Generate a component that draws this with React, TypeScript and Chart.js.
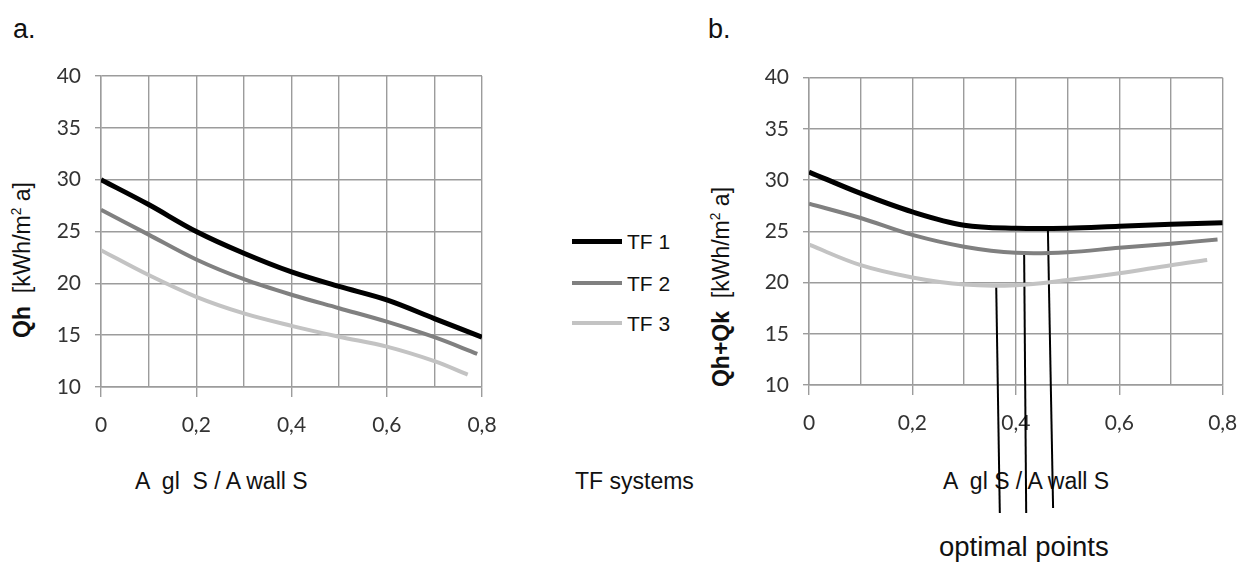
import React, { useEffect, useRef } from 'react';
import { Chart, registerables } from 'chart.js';
Chart.register(...registerables);

// ---------- data ----------
const xFull = [0, 0.1, 0.2, 0.3, 0.4, 0.5, 0.6, 0.7, 0.8];
const xTF2 = [0, 0.1, 0.2, 0.3, 0.4, 0.5, 0.6, 0.7, 0.79];
const xTF3 = [0, 0.1, 0.2, 0.3, 0.4, 0.5, 0.6, 0.7, 0.77];

// panel a: Qh
const qhTF1 = [30.0, 27.6, 25.0, 22.9, 21.1, 19.7, 18.4, 16.6, 14.8];
const qhTF2 = [27.1, 24.7, 22.3, 20.4, 18.9, 17.6, 16.3, 14.8, 13.2];
const qhTF3 = [23.2, 20.8, 18.7, 17.1, 15.9, 14.85, 13.9, 12.5, 11.2];

// panel b: Qh+Qk
const qhkTF1 = [30.8, 28.7, 26.9, 25.6, 25.3, 25.3, 25.5, 25.7, 25.85];
const qhkTF2 = [27.7, 26.3, 24.65, 23.5, 22.9, 22.95, 23.4, 23.8, 24.2];
const qhkTF3 = [23.7, 21.7, 20.5, 19.8, 19.75, 20.25, 20.9, 21.7, 22.2];

// optimal points (top at curve minimum, bottom below the axis)
const optimalXTop = [0.362, 0.416, 0.462];
const optimalXBottom = [0.369, 0.42, 0.472];
const optimalYTop = [19.7, 23.0, 25.1];
const optimalYBottom = [-2.5, -2.5, -2.0];

const seriesNames = ['TF 1', 'TF 2', 'TF 3'];
const seriesColors = ['#000000', '#808080', '#c3c3c3'];
const seriesWidths = [5, 4, 4];
const xTickLabels = ['0', '0,2', '0,4', '0,6', '0,8'];
const yMin = 10;
const yMax = 40;

const GRID = '#9c9c9c';
const TEXT_FONT = '"Liberation Sans", Arial, sans-serif';

function toPoints(xs: number[], ys: number[]) {
  return xs.map((x, i) => ({ x, y: ys[i] }));
}

function curveDatasets(seriesX: number[][], seriesY: number[][]) {
  return seriesY.map((ys, i) => ({
    label: seriesNames[i],
    data: toPoints(seriesX[i], ys),
    borderColor: seriesColors[i],
    borderWidth: seriesWidths[i],
    pointRadius: 0,
    tension: 0.35,
    fill: false,
    borderCapStyle: 'butt',
  }));
}

function makeOptions(yWidth: number, xHeight: number, padding: any) {
  return {
    responsive: false,
    animation: false,
    devicePixelRatio: 1,
    layout: { padding },
    plugins: { legend: { display: false }, tooltip: { enabled: false } },
    scales: {
      x: {
        type: 'linear',
        min: 0,
        max: 0.8,
        afterFit: (s: any) => { s.height = xHeight; },
        ticks: {
          stepSize: 0.1,
          autoSkip: false,
          maxRotation: 0,
          padding: 16,
          color: '#333333',
          font: { family: 'Lato', size: 21 },
          callback: (v: number) => {
            const idx = Math.round(v * 10);
            return idx % 2 === 0 ? xTickLabels[idx / 2] : '';
          },
        },
        grid: {
          color: GRID,
          lineWidth: 1.4,
          tickLength: 10,
          tickColor: (ctx: any) =>
            ctx.tick && Math.round(ctx.tick.value * 10) % 2 === 0 ? GRID : 'rgba(0,0,0,0)',
        },
        border: { color: GRID, width: 1.4 },
      },
      y: {
        min: yMin,
        max: yMax,
        afterFit: (s: any) => { s.width = yWidth; },
        ticks: {
          stepSize: 5,
          padding: 14,
          color: '#333333',
          font: { family: 'Lato', size: 21 },
        },
        grid: { color: GRID, lineWidth: 1.4, tickLength: 6 },
        border: { color: GRID, width: 1.4 },
      },
    },
  };
}

function useChart(ref: any, config: any) {
  useEffect(() => {
    const chart = new Chart(ref.current, config);
    return () => chart.destroy();
  }, []);
}

const abs = (left: number, top: number, extra: any = {}) => ({
  position: 'absolute' as const,
  left,
  top,
  lineHeight: 1,
  whiteSpace: 'pre' as const,
  fontFamily: TEXT_FONT,
  color: '#111',
  ...extra,
});

export default function App() {
  const refA = useRef<HTMLCanvasElement>(null);
  const refB = useRef<HTMLCanvasElement>(null);

  useChart(refA, {
    type: 'line',
    data: {
      datasets: curveDatasets([xFull, xTF2, xTF3], [qhTF1, qhTF2, qhTF3]),
    },
    options: makeOptions(101, 83, { left: 0, top: 76, right: 78, bottom: 0 }),
  });

  const optimalSets = optimalXTop.map((xt, i) => ({
    label: 'optimal ' + seriesNames[i],
    data: [
      { x: xt, y: optimalYTop[i] },
      { x: optimalXBottom[i], y: optimalYBottom[i] },
    ],
    borderColor: '#000000',
    borderWidth: 2,
    pointRadius: 0,
    tension: 0,
    clip: false,
  }));

  useChart(refB, {
    type: 'line',
    data: {
      datasets: [
        ...curveDatasets([xFull, xTF2, xTF3], [qhkTF1, qhkTF2, qhkTF3]),
        ...optimalSets,
      ],
    },
    options: makeOptions(109, 178, { left: 0, top: 77.7, right: 37.3, bottom: 0 }),
  });

  const yTitle = (cx: number, cy: number, bold: string) => (
    <div
      style={abs(cx, cy, {
        fontSize: 23,
        transform: 'translate(-50%, -50%) rotate(-90deg)',
      })}
    >
      <b>{bold}</b>
      {'  [kWh/m'}
      <sup style={{ fontSize: '0.6em', verticalAlign: '0.6em' }}>2</sup>
      {' a]'}
    </div>
  );

  const legendY = [241, 283, 323];

  return (
    <div style={{ position: 'absolute', left: 0, top: 0, width: 1248, height: 563, background: '#fff', overflow: 'hidden' }}>
      <div style={abs(13, 16, { fontSize: 27 })}>a.</div>
      <div style={abs(708, 16, { fontSize: 27 })}>b.</div>

      {yTitle(22, 260, 'Qh')}
      {yTitle(721, 287, 'Qh+Qk')}

      {seriesNames.map((name, i) => (
        <React.Fragment key={name}>
          <div
            style={{
              position: 'absolute',
              left: 572,
              top: legendY[i] - seriesWidths[i] / 2,
              width: 50,
              height: seriesWidths[i],
              background: seriesColors[i],
            }}
          />
          <div style={abs(627, legendY[i] - 10.3, { fontSize: 21 })}>{name}</div>
        </React.Fragment>
      ))}
      <div style={abs(575, 469.5, { fontSize: 23 })}>TF systems</div>

      <div style={abs(135, 469.5, { fontSize: 23 })}>{'A  gl  S / A wall S'}</div>
      <div style={abs(943, 469.5, { fontSize: 23 })}>{'A  gl S / A wall S'}</div>
      <div style={abs(939, 533, { fontSize: 27.5 })}>optimal points</div>

      <canvas ref={refA} width={560} height={470} style={{ position: 'absolute', left: 0, top: 0 }} />
      <canvas ref={refB} width={560} height={563} style={{ position: 'absolute', left: 700, top: 0 }} />
    </div>
  );
}
